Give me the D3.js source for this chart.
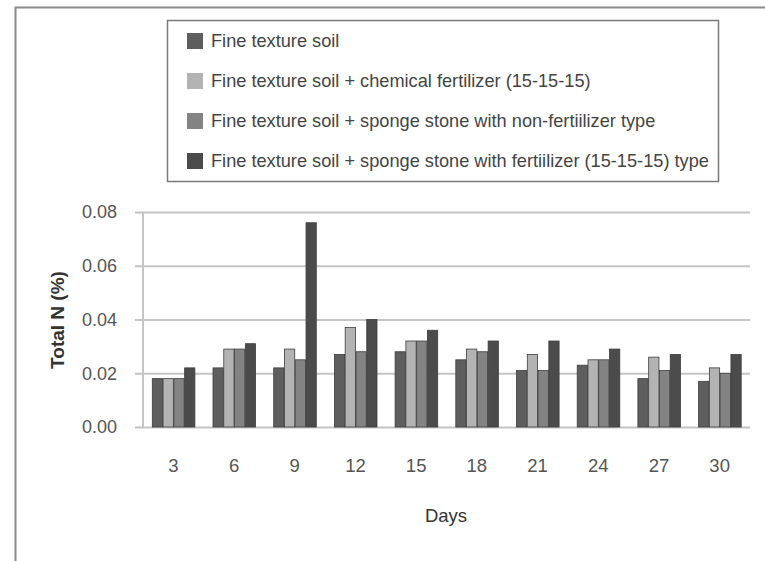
<!DOCTYPE html>
<html>
<head>
<meta charset="utf-8">
<script src="https://cdn.jsdelivr.net/npm/d3@7"></script>
<style>
  html, body { margin: 0; padding: 0; background: #fff; }
  svg { display: block; }
  text { font-family: "Liberation Sans", Arial, sans-serif; }
</style>
</head>
<body>
<svg id="chart" width="765" height="561"></svg>
<script>
const days = ["3", "6", "9", "12", "15", "18", "21", "24", "27", "30"];
const seriesNames = [
  "Fine texture soil",
  "Fine texture soil + chemical fertilizer (15-15-15)",
  "Fine texture soil + sponge stone with non-fertiilizer type",
  "Fine texture soil + sponge stone with fertiilizer (15-15-15) type"
];
const fineSoil       = [0.018, 0.022, 0.022, 0.027, 0.028, 0.025, 0.021, 0.023, 0.018, 0.017];
const chemFert       = [0.018, 0.029, 0.029, 0.037, 0.032, 0.029, 0.027, 0.025, 0.026, 0.022];
const spongeNonFert  = [0.018, 0.029, 0.025, 0.028, 0.032, 0.028, 0.021, 0.025, 0.021, 0.020];
const spongeFert     = [0.022, 0.031, 0.076, 0.040, 0.036, 0.032, 0.032, 0.029, 0.027, 0.027];
const yTicks = [0, 0.02, 0.04, 0.06, 0.08];
const seriesValues = [fineSoil, chemFert, spongeNonFert, spongeFert];
const colors = ["#5e5e5e", "#b3b3b3", "#838383", "#4b4b4b"];

const svg = d3.select("#chart");

// outer frame
svg.append("path")
  .attr("d", "M15.5,561 L15.5,7.5 L765,7.5")
  .attr("fill", "none").attr("stroke", "#8a8a8a").attr("stroke-width", 2);

const pLeft = 143, pRight = 750, pTop = 212, pBottom = 427;
const x = d3.scaleBand().domain(days).range([pLeft, pRight]).paddingInner(0.29).paddingOuter(0.145);
const xs = d3.scaleBand().domain(d3.range(4)).range([0, x.bandwidth()]).padding(0);
const y = d3.scaleLinear().domain([0, 0.08]).range([pBottom, pTop]);

// gridlines + y axis
const yAxis = d3.axisLeft(y).tickValues(yTicks).tickFormat(d3.format(".2f"))
  .tickSize(-(pRight - pLeft)).tickPadding(26);
const gy = svg.append("g").attr("transform", `translate(${pLeft},0)`).call(yAxis);
gy.select(".domain").remove();
gy.selectAll(".tick line").attr("stroke", "#c4c4c4").attr("stroke-width", 2)
  .attr("x1", -8);
gy.selectAll(".tick text").attr("font-size", 18).attr("fill", "#555")
  .attr("font-family", "Liberation Sans, Arial, sans-serif");
svg.append("line").attr("x1", pLeft).attr("x2", pLeft).attr("y1", pTop).attr("y2", pBottom)
  .attr("stroke", "#c4c4c4").attr("stroke-width", 2);

// bars
const groups = svg.append("g").selectAll("g").data(days).join("g")
  .attr("transform", d => `translate(${x(d)},0)`);
groups.selectAll("rect").data((d, i) => seriesValues.map((s, k) => ({k, v: s[i]})))
  .join("rect")
  .attr("x", d => xs(d.k) + 0.5)
  .attr("width", xs.bandwidth() - 0.5)
  .attr("y", d => y(d.v))
  .attr("height", d => y(0) - y(d.v))
  .attr("fill", d => colors[d.k])
  .attr("stroke", "#3e3e3e").attr("stroke-width", 0.8);

// x axis
const xAxis = d3.axisBottom(x).tickSize(0).tickPadding(32);
const gx = svg.append("g").attr("transform", `translate(0,${pBottom})`).call(xAxis);
gx.select(".domain").remove();
gx.selectAll(".tick text").attr("font-size", 18.5).attr("fill", "#555")
  .attr("font-family", "Liberation Sans, Arial, sans-serif");

// axis titles
svg.append("text").attr("x", 446).attr("y", 522).attr("text-anchor", "middle")
  .attr("font-size", 18.5).attr("fill", "#333").text("Days");
svg.append("text").attr("transform", "translate(64,320) rotate(-90)")
  .attr("text-anchor", "middle").attr("font-size", 19).attr("font-weight", "bold")
  .attr("fill", "#333").text("Total N (%)");

// legend
svg.append("rect").attr("x", 167.5).attr("y", 20.5).attr("width", 551).attr("height", 161)
  .attr("fill", "#fff").attr("stroke", "#7a7a7a").attr("stroke-width", 1.5);
const lg = svg.append("g").selectAll("g").data(seriesNames).join("g")
  .attr("transform", (d, i) => `translate(187,${41 + i * 40})`);
lg.append("rect").attr("x", 0).attr("y", -8).attr("width", 16).attr("height", 16)
  .attr("fill", (d, i) => colors[i]);
lg.append("text").attr("x", 24).attr("y", 6).attr("font-size", 18.2).attr("fill", "#444")
  .text(d => d);
</script>
</body>
</html>
